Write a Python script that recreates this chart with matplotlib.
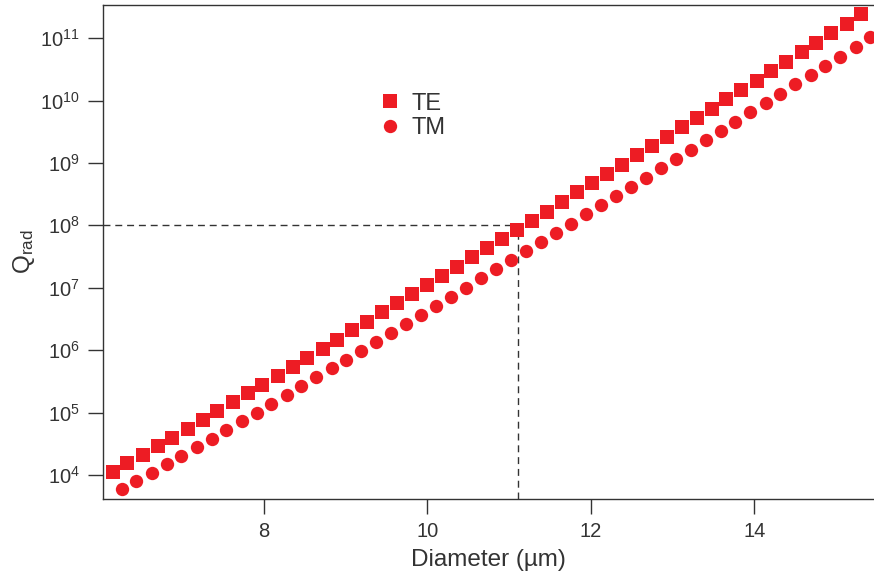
import matplotlib
matplotlib.use("Agg")
import matplotlib.pyplot as plt
from matplotlib.ticker import FixedLocator, NullLocator, LogFormatterSciNotation

plt.rcParams["font.family"] = ["Liberation Sans", "DejaVu Sans"]
plt.rcParams["mathtext.fontset"] = "custom"
plt.rcParams["mathtext.rm"] = "Liberation Sans"
plt.rcParams["mathtext.it"] = "Liberation Sans:italic"

# ---------------------------------------------------------------------------
# Data
# ---------------------------------------------------------------------------
te_diameter = [6.15, 6.33, 6.52, 6.70, 6.88, 7.07, 7.25, 7.43, 7.62, 7.80,
               7.98, 8.17, 8.35, 8.53, 8.72, 8.90, 9.08, 9.26, 9.45, 9.63,
               9.81, 10.00, 10.18, 10.36, 10.55, 10.73, 10.91, 11.10, 11.28, 11.46,
               11.65, 11.83, 12.01, 12.20, 12.38, 12.56, 12.75, 12.93, 13.11, 13.30,
               13.48, 13.66, 13.84, 14.03, 14.21, 14.39, 14.58, 14.76, 14.94, 15.13,
               15.31]
te_q = [1.10e4, 1.53e4, 2.11e4, 2.90e4, 3.95e4, 5.44e4, 7.59e4, 1.05e5, 1.46e5, 2.03e5,
        2.79e5, 3.89e5, 5.42e5, 7.55e5, 1.04e6, 1.47e6, 2.08e6, 2.85e6, 4.08e6, 5.62e6,
        7.93e6, 1.10e7, 1.56e7, 2.17e7, 3.07e7, 4.33e7, 6.03e7, 8.41e7, 1.19e8, 1.65e8,
        2.39e8, 3.38e8, 4.71e8, 6.64e8, 9.25e8, 1.32e9, 1.87e9, 2.63e9, 3.72e9, 5.30e9,
        7.31e9, 1.04e10, 1.47e10, 2.08e10, 2.97e10, 4.14e10, 5.92e10, 8.34e10, 1.19e11, 1.68e11,
        2.40e11]

tm_diameter = [6.26, 6.44, 6.63, 6.81, 6.99, 7.18, 7.36, 7.54, 7.73, 7.91,
               8.09, 8.28, 8.46, 8.64, 8.83, 9.01, 9.19, 9.37, 9.56, 9.74,
               9.92, 10.11, 10.29, 10.47, 10.66, 10.84, 11.02, 11.21, 11.39, 11.57,
               11.76, 11.94, 12.12, 12.31, 12.49, 12.67, 12.86, 13.04, 13.22, 13.41,
               13.59, 13.77, 13.95, 14.14, 14.32, 14.50, 14.69, 14.87, 15.05, 15.24,
               15.42]
tm_q = [5.88e3, 7.98e3, 1.08e4, 1.48e4, 2.01e4, 2.80e4, 3.80e4, 5.25e4, 7.23e4, 9.93e4,
        1.38e5, 1.91e5, 2.66e5, 3.71e5, 5.11e5, 7.02e5, 9.77e5, 1.36e6, 1.90e6, 2.67e6,
        3.72e6, 5.15e6, 7.18e6, 1.00e7, 1.42e7, 1.97e7, 2.75e7, 3.87e7, 5.46e7, 7.53e7,
        1.06e8, 1.50e8, 2.11e8, 2.95e8, 4.11e8, 5.79e8, 8.28e8, 1.16e9, 1.63e9, 2.30e9,
        3.24e9, 4.57e9, 6.47e9, 9.22e9, 1.29e10, 1.82e10, 2.59e10, 3.61e10, 5.04e10, 7.20e10,
        1.04e11]

x_ticks = [8, 10, 12, 14]
y_ticks = [1e4, 1e5, 1e6, 1e7, 1e8, 1e9, 1e10, 1e11]

# marked design point
mark_diameter = 11.11
mark_q = 1e8

RED = "#ed1c24"
INK = "#333333"

# ---------------------------------------------------------------------------
# Figure
# ---------------------------------------------------------------------------
x_lo, x_hi = 6.035, 15.465
y_lo, y_hi = 10 ** 3.622, 10 ** 11.526

fig = plt.figure(figsize=(8.74, 5.78), dpi=100)
ax = fig.add_axes([0.1182, 0.1375, 1.0 - 0.1182, 0.9908 - 0.1375])

ax.plot(te_diameter, te_q, ls="none", marker="s", ms=9.6, mew=0,
        color=RED, label="TE", clip_on=False, zorder=3)
ax.plot(tm_diameter, tm_q, ls="none", marker="o", ms=9.6, mew=0,
        color=RED, label="TM", clip_on=False, zorder=3)

ax.set_yscale("log")
ax.set_xlim(x_lo, x_hi)
ax.set_ylim(y_lo, y_hi)

# dashed guide lines to the design point
ax.plot([x_lo, mark_diameter], [mark_q, mark_q], ls=(0, (5, 3.5)),
        lw=1.0, color=INK, zorder=2)
ax.plot([mark_diameter, mark_diameter], [y_lo, mark_q], ls=(0, (5, 3.5)),
        lw=1.0, color=INK, zorder=2)

ax.xaxis.set_major_locator(FixedLocator(x_ticks))
ax.yaxis.set_major_locator(FixedLocator(y_ticks))
ax.yaxis.set_major_formatter(LogFormatterSciNotation())
ax.yaxis.set_minor_locator(NullLocator())

ax.tick_params(axis="both", direction="out", length=11, width=1.0,
               color=INK, labelcolor=INK, labelsize=14.5, pad=6)

for side in ("left", "bottom", "top"):
    ax.spines[side].set_color(INK)
    ax.spines[side].set_linewidth(1.0)
ax.spines["right"].set_visible(False)

ax.set_xlabel("Diameter (µm)", fontsize=17.5, color=INK, labelpad=6)
ax.set_ylabel(r"Q$_\mathregular{rad}$", fontsize=17.5, color=INK, labelpad=2)

ax.legend(loc="upper left", bbox_to_anchor=(0.330, 0.866), frameon=False,
          fontsize=17, handlelength=0.9, handletextpad=0.5,
          labelspacing=0.12, labelcolor=INK)

fig.savefig("out.png", dpi=100)
